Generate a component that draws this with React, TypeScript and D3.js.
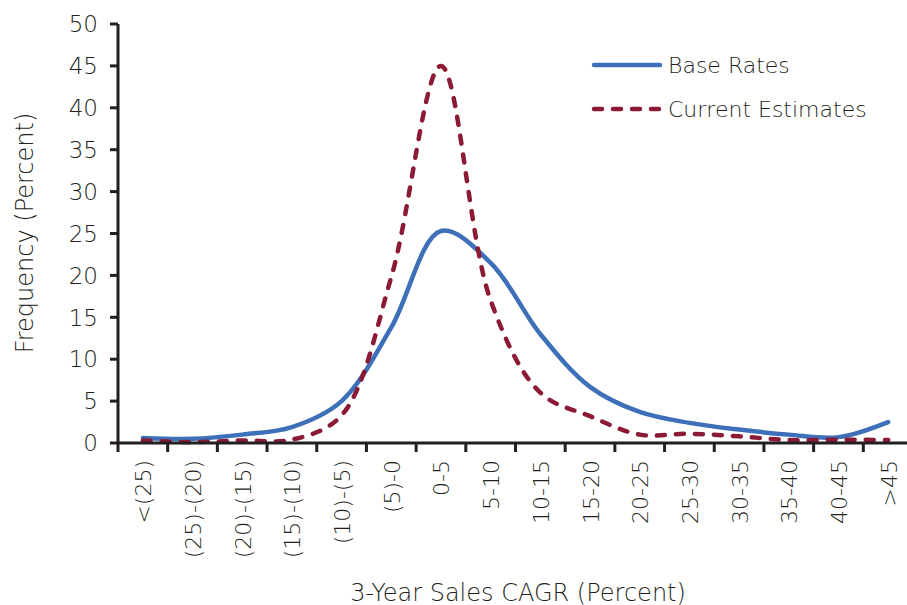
import React from "react";
import * as d3 from "d3";

const categories = ["<(25)", "(25)-(20)", "(20)-(15)", "(15)-(10)", "(10)-(5)", "(5)-0", "0-5", "5-10", "10-15", "15-20", "20-25", "25-30", "30-35", "35-40", "40-45", ">45"];
const baseRates = [0.6, 0.5, 1.0, 1.9, 5.0, 13.8, 25.3, 21.5, 13.0, 6.7, 3.7, 2.4, 1.6, 1.0, 0.7, 2.5];
const currentEstimates = [0.3, 0.1, 0.3, 0.4, 3.3, 19.8, 45, 17.0, 6.0, 3.2, 1.0, 1.1, 0.8, 0.35, 0.4, 0.35];
const yTicks = [0, 5, 10, 15, 20, 25, 30, 35, 40, 45, 50];
const seriesNames = ["Base Rates", "Current Estimates"];

const W = 907, H = 605;
const FONT = "'DejaVu Sans', 'Liberation Sans', sans-serif";
const INK = "#231f20";
const BLUE = "#3d70b8";
const RED = "#8b1a34";

export default function App() {
  const x = d3.scaleBand<string>().domain(categories).range([118, 913]).padding(0);
  const y = d3.scaleLinear().domain([0, 50]).range([443, 24]);
  const cx = (c: string) => (x(c) as number) + x.bandwidth() / 2;
  const line = d3.line<number>()
    .x((_, i) => cx(categories[i]))
    .y((d) => y(d))
    .curve(d3.curveCatmullRom.alpha(0.5));
  const boundaries = categories.map((c) => x(c) as number).concat([913]);

  return (
    <svg width={W} height={H} style={{ position: "absolute", left: 0, top: 0, background: "#fff" }} fontFamily={FONT} fontWeight={300}>
      <rect x={0} y={0} width={W} height={H} fill="#fff" />
      {/* lines */}
      <path d={line(baseRates) || ""} fill="none" stroke={BLUE} strokeWidth={4.5} strokeLinejoin="round" strokeLinecap="round" />
      <path d={line(currentEstimates) || ""} fill="none" stroke={RED} strokeWidth={4.5} strokeDasharray="8 11" strokeLinecap="round" />
      {/* y axis */}
      <line x1={118} x2={118} y1={y(50)} y2={y(0)} stroke={INK} strokeWidth={3} />
      {yTicks.map((t) => (
        <g key={t}>
          <line x1={110} x2={118} y1={y(t)} y2={y(t)} stroke={INK} strokeWidth={3} />
          <text x={98} y={y(t)} dy="0.36em" textAnchor="end" fontSize={23} fill={INK}>{t}</text>
        </g>
      ))}
      {/* x axis */}
      <line x1={116.5} x2={W} y1={y(0)} y2={y(0)} stroke={INK} strokeWidth={3} />
      {boundaries.map((b, i) => (
        <line key={i} x1={b} x2={b} y1={y(0)} y2={y(0) + 9} stroke={INK} strokeWidth={3} />
      ))}
      {categories.map((c) => (
        <text key={c} transform={`translate(${cx(c) + 1},460) rotate(-90)`} textAnchor="end" dominantBaseline="central" fontSize={22} fill={INK}>{c}</text>
      ))}
      {/* axis titles */}
      <text transform="translate(25,233) rotate(-90)" textAnchor="middle" dominantBaseline="central" fontSize={24} fill={INK}>Frequency (Percent)</text>
      <text x={518} y={601} textAnchor="middle" fontSize={24} fill={INK}>3-Year Sales CAGR (Percent)</text>
      {/* legend */}
      <line x1={594} x2={660} y1={65} y2={65} stroke={BLUE} strokeWidth={4.5} strokeLinecap="round" />
      <text x={668} y={65} dy="0.36em" fontSize={22} fill={INK}>{seriesNames[0]}</text>
      <line x1={594} x2={662} y1={109} y2={109} stroke={RED} strokeWidth={4.5} strokeDasharray="8 11" strokeLinecap="round" />
      <text x={668} y={109} dy="0.36em" fontSize={22} fill={INK}>{seriesNames[1]}</text>
    </svg>
  );
}
